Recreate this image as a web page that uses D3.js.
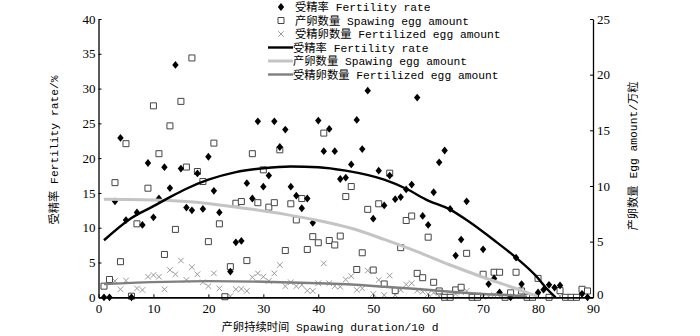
<!DOCTYPE html>
<html>
<head>
<meta charset="utf-8">
<script src="https://cdn.jsdelivr.net/npm/d3@7"></script>
<style>
  body { margin: 0; background: #fff; }
  svg text { fill: #000; }
  .tick text { font-family: "Liberation Serif", "DejaVu Serif", serif; font-size: 13px; }
  .lab { font-family: "Liberation Mono", "Noto Sans CJK SC", monospace; font-size: 11.3px; }
</style>
</head>
<body>
<div id="chart"></div>
<script>
// scatter: fertility rate (%, left axis)
var rateDur = [1,2,3,4,5,6,7,8,9,10,11,12,13,14,15,16,17,18,19,20,21,22,24,25,26,27,28,29,30,31,32,33,34,35,36,37,38,39,40,41,42,43,44,45,46,47,48,49,50,51,52,53,54,55,56,57,58,59,60,61,62,63,64,65,66,67,70,71,72,73,75,76,77,80,81,82,83,84,88,89];
var rateVal = [0,0,13.8,22.9,11.1,0,12.2,10.4,19.3,11.5,14.2,18.7,15.7,33.4,18.5,12.9,12.5,17.8,12.7,20.2,15.3,12.2,3.7,7.9,8.1,16.4,14.2,25.3,15.9,17.5,25.3,21.6,24.1,15.9,14.6,12.8,14.2,10.7,25.4,21.0,24.2,21.0,17.0,17.2,19.1,25.5,21.3,29.7,11.3,18.2,13.2,17.5,14.1,14.4,15.5,16.2,28.7,11.7,10.4,15.1,19.4,21.1,12.7,6.0,8.3,13.8,6.9,1.9,2.7,0.7,0,5.7,1.9,0.7,1.1,1.8,1.4,1.7,0.5,0];

// scatter: spawning egg amount (10^4, right axis)
var eggDur = [1,2,3,4,5,6,7,9,10,11,12,13,14,15,16,17,18,19,20,21,22,23,24,25,26,27,28,29,30,31,32,33,34,35,36,37,38,39,40,41,42,43,44,45,46,47,48,49,50,51,52,53,54,55,56,57,58,59,60,61,62,63,64,65,66,67,68,69,70,72,73,74,75,76,77,78,79,80,82,84,85,86,87,88,89];
var eggVal = [1.0,1.6,10.3,3.2,13.8,0.1,6.6,9.8,17.2,12.9,3.85,15.4,6.1,17.6,11.7,21.5,11.3,10.4,5.0,13.85,6.6,0.05,2.75,8.45,8.6,3.3,12.9,8.5,11.45,8.1,8.5,13.25,4.2,8.4,6.95,8.87,4.3,5.45,4.9,14.75,5.1,4.7,5.5,9.05,9.95,2.5,4.0,7.9,2.45,8.4,1.2,11.15,0.6,4.46,6.9,7.3,2.15,1.76,5.4,1.35,0.57,0,0,0.66,0.9,3.95,0,0,2.07,2.25,2.25,0,0.4,2.25,0.57,0,0,1.7,0,0.6,0,0,0,0.72,0.57];

// scatter: fertilized egg amount (10^4, right axis)
var fertDur = [3,4,5,7,8,9,10,11,12,13,14,15,16,17,18,19,20,21,22,24,25,26,27,28,29,30,31,32,33,34,35,36,37,38,39,40,41,42,43,44,45,46,47,48,49,50,51,52,53,54,55,56,57,58,59,60,61,62,63,64,65,66,67,68,69,70,71,72,73,75,76,77,78,80,84];
var fertVal = [1.47,0.72,1.5,0.8,0.66,1.85,2.0,1.85,0.72,2.45,2.07,3.3,1.56,2.7,2.07,1.35,1.0,2.15,0.8,0.1,0.72,0.75,0.57,1.8,2.15,1.85,1.47,2.15,2.9,1.0,1.35,1.0,1.1,0.6,0.57,1.26,3.05,1.26,1.0,0.95,1.6,1.9,0.66,0.8,2.4,0.3,1.56,0.2,1.95,0.2,0.66,1.15,1.26,0.6,0.5,0.3,0.4,0.1,0.1,0.05,0.3,0.45,0.57,0.1,0.2,0.05,0.1,0.2,0.1,0.15,0.1,0.2,0.05,0.1,0.1];

// fitted curves
var rateFitX = [1,6,10,13,16,20,25,30,35,40,45,52,56,60,64,67,72,76,79.7,81.5,83.2];
var rateFitY = [8.2,11.4,13.1,14.4,15.6,16.9,18.0,18.55,18.8,18.7,18.2,16.9,15.6,13.9,12.6,11.1,8.2,5.7,3.0,1.3,0];
var eggFitX = [1,10,16,22,28,34,40,46,52,58,64,70,75,80];
var eggFitY = [8.8,8.75,8.6,8.3,7.9,7.45,6.9,6.2,5.2,4.1,2.9,1.8,0.95,0.05];
var fertFitX = [1,20,30,40,46,52,58,64,70,75,78];
var fertFitY = [1.2,1.45,1.4,1.26,1.15,0.95,0.75,0.5,0.3,0.18,0.05];

var xTicks = [0,10,20,30,40,50,60,70,80,90];
var leftTicks = [0,5,10,15,20,25,30,35,40];
var rightTicks = [0,5,10,15,20,25];

var legendLabels = ["受精率 Fertility rate", "产卵数量 Spawing egg amount", "受精卵数量 Fertilized egg amount",
                    "受精率 Fertility rate", "产卵数量 Spawing egg amount", "受精卵数量 Fertilized egg amount"];

var width = 700, height = 336;
var margin = {top: 19, right: 108, bottom: 39, left: 98};

var svg = d3.select("#chart").append("svg")
    .attr("width", width)
    .attr("height", height);

var x = d3.scaleLinear().domain([0, 90]).range([margin.left + 0.5, width - margin.right + 1]);
var yL = d3.scaleLinear().domain([0, 40]).range([height - margin.bottom + 0.3, margin.top]);
var yR = d3.scaleLinear().domain([0, 25]).range([height - margin.bottom + 0.3, margin.top]);

var colBlack = "#000", colLight = "#c4c4c4", colDark = "#7f7f7f";

var diamondPath = "M0,-3.9L3.2,0L0,3.9L-3.2,0Z";
var squarePath = "M-3,-3H3V3H-3Z";
var crossPath = "M-2.8,-2.8L2.8,2.8M-2.8,2.8L2.8,-2.8";

function zip(a, b) { return a.map(function(d, i) { return [d, b[i]]; }); }

// crosses
svg.append("g").selectAll("path")
  .data(zip(fertDur, fertVal)).enter().append("path")
    .attr("d", crossPath)
    .attr("transform", function(d) { return "translate(" + x(d[0]) + "," + yR(d[1]) + ")"; })
    .attr("fill", "none").attr("stroke", "#9a9a9a").attr("stroke-width", 1);

// squares
svg.append("g").selectAll("path")
  .data(zip(eggDur, eggVal)).enter().append("path")
    .attr("d", squarePath)
    .attr("transform", function(d) { return "translate(" + x(d[0]) + "," + yR(d[1]) + ")"; })
    .attr("fill", "#fff").attr("stroke", "#444").attr("stroke-width", 1);

// diamonds
svg.append("g").selectAll("path")
  .data(zip(rateDur, rateVal)).enter().append("path")
    .attr("d", diamondPath)
    .attr("transform", function(d) { return "translate(" + x(d[0]) + "," + yL(d[1]) + ")"; })
    .attr("fill", colBlack);

// fitted lines
var lineL = d3.line().x(function(d) { return x(d[0]); }).y(function(d) { return yL(d[1]); }).curve(d3.curveMonotoneX);
var lineR = d3.line().x(function(d) { return x(d[0]); }).y(function(d) { return yR(d[1]); }).curve(d3.curveMonotoneX);

svg.append("path").datum(zip(fertFitX, fertFitY))
    .attr("d", lineR).attr("fill", "none").attr("stroke", colDark).attr("stroke-width", 2.4);
svg.append("path").datum(zip(eggFitX, eggFitY))
    .attr("d", lineR).attr("fill", "none").attr("stroke", colLight).attr("stroke-width", 3);
svg.append("path").datum(zip(rateFitX, rateFitY))
    .attr("d", lineL).attr("fill", "none").attr("stroke", colBlack).attr("stroke-width", 2.4);

// axes
var xAxis = svg.append("g")
    .attr("transform", "translate(0," + yL(0) + ")")
    .call(d3.axisBottom(x).tickValues(xTicks).tickSize(-3).tickSizeOuter(0).tickPadding(6));
var lAxis = svg.append("g")
    .attr("transform", "translate(" + x(0) + ",0)")
    .call(d3.axisLeft(yL).tickValues(leftTicks).tickSize(-3).tickSizeOuter(0).tickPadding(3));
var rAxis = svg.append("g")
    .attr("transform", "translate(" + x(90) + ",0)")
    .call(d3.axisRight(yR).tickValues(rightTicks).tickSize(-3).tickSizeOuter(0).tickPadding(4));

svg.selectAll(".domain").attr("stroke", "#000").attr("stroke-width", 1.3);
svg.selectAll(".tick line").attr("stroke", "#000");
xAxis.select(".domain").attr("stroke-width", 1.8);
// keep the right-axis zero clear of the bottom "90"
rAxis.selectAll(".tick text").filter(function(d) { return d === 0; }).attr("dy", "0.1em");

// axis titles
svg.append("text").attr("class", "lab")
    .attr("x", 330).attr("y", 331)
    .attr("text-anchor", "middle")
    .text("产卵持续时间 Spawing duration/10 d");
svg.append("text").attr("class", "lab")
    .attr("transform", "translate(58,150) rotate(-90)")
    .attr("text-anchor", "middle")
    .text("受精率 Fertility rate/%");
svg.append("text").attr("class", "lab")
    .attr("transform", "translate(637,156) rotate(-90)")
    .attr("text-anchor", "middle")
    .text("产卵数量 Egg amount/万粒");

// legend
var legend = svg.append("g");
legendLabels.forEach(function(label, i) {
  var cy = 7 + i * 13.5;
  var g = legend.append("g").attr("transform", "translate(0," + cy + ")");
  if (i === 0) g.append("path").attr("d", diamondPath).attr("transform", "translate(281,0)").attr("fill", colBlack);
  if (i === 1) g.append("path").attr("d", squarePath).attr("transform", "translate(281,0)").attr("fill", "#fff").attr("stroke", "#444");
  if (i === 2) g.append("path").attr("d", crossPath).attr("transform", "translate(281,0)").attr("fill", "none").attr("stroke", "#9a9a9a");
  if (i >= 3) {
    g.append("line").attr("x1", 268).attr("x2", 293).attr("y1", 0).attr("y2", 0)
      .attr("stroke", [colBlack, colLight, colDark][i - 3])
      .attr("stroke-width", i === 4 ? 3 : 2.4);
  }
  g.append("text").attr("class", "lab")
    .attr("x", i >= 3 ? 293 : 295).attr("y", 4)
    .text(label);
});
</script>
</body>
</html>
